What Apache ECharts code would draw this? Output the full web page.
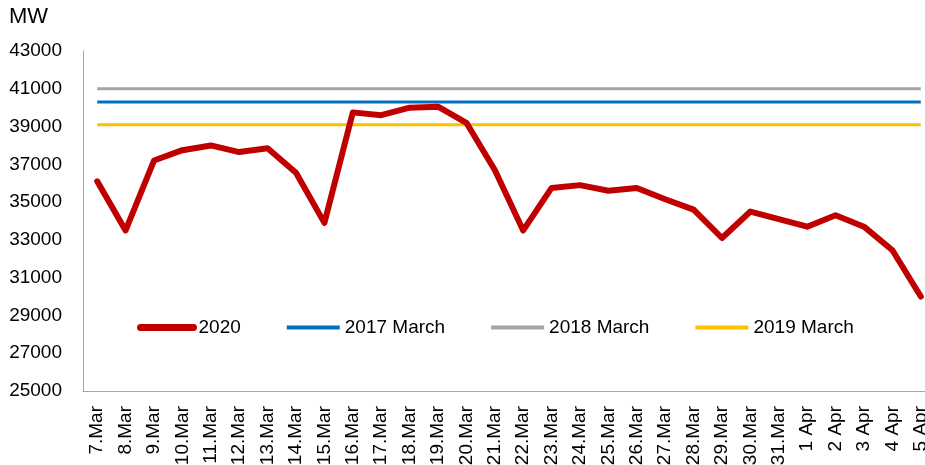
<!DOCTYPE html>
<html>
<head>
<meta charset="utf-8">
<script src="https://cdn.jsdelivr.net/npm/echarts@6/dist/echarts.min.js"></script>
<style>
    html, body { margin: 0; padding: 0; background: #fff; }
    #main { width: 925px; height: 465px; }
</style>
</head>
<body>
<div id="main"></div>
<script>
// categories on the x axis
var days = ['7.Mar', '8.Mar', '9.Mar', '10.Mar', '11.Mar', '12.Mar', '13.Mar', '14.Mar', '15.Mar', '16.Mar',
    '17.Mar', '18.Mar', '19.Mar', '20.Mar', '21.Mar', '22.Mar', '23.Mar', '24.Mar', '25.Mar', '26.Mar',
    '27.Mar', '28.Mar', '29.Mar', '30.Mar', '31.Mar', '1 Apr', '2 Apr', '3 Apr', '4 Apr', '5 Apr'];

// 2020 daily values (MW)
var load2020 = [36100, 33500, 37200, 37750, 38000, 37650, 37850, 36550, 33900, 39750,
    39600, 40000, 40050, 39200, 36700, 33500, 35750, 35900, 35600, 35750,
    35150, 34600, 33100, 34500, 34100, 33700, 34300, 33700, 32450, 30000];

// reference levels from previous years
var march2017 = 40300;
var march2018 = 41000;
var march2019 = 39100;

function flat(v) {
    var arr = [];
    for (var i = 0; i < days.length; i++) {
        arr.push(v);
    }
    return arr;
}

var fontName = 'Liberation Sans, Arial, sans-serif';

var myChart = echarts.init(document.getElementById('main'));
var option = {
    animation: false,
    backgroundColor: '#fff',
    title: {
        text: 'MW',
        left: 9,
        top: 6,
        padding: 0,
        textStyle: { fontFamily: fontName, fontSize: 22, fontWeight: 'normal', color: '#000' }
    },
    legend: {
        left: 137,
        top: 318,
        padding: 0,
        itemWidth: 53,
        itemHeight: 14,
        itemGap: 44,
        itemStyle: { opacity: 0, color: 'transparent', borderWidth: 0 },
        textStyle: { fontFamily: fontName, fontSize: 19, color: '#000' },
        data: [
            { name: '2020', lineStyle: { width: 7, cap: 'round' } },
            { name: '2017 March', lineStyle: { width: 4 } },
            { name: '2018 March', lineStyle: { width: 4 } },
            { name: '2019 March', lineStyle: { width: 4 } }
        ]
    },
    grid: {
        left: 83,
        top: 51,
        bottom: 74,
        width: 852,
        outerBoundsMode: 'none'
    },
    xAxis: {
        type: 'category',
        data: days,
        boundaryGap: true,
        axisLine: { lineStyle: { color: '#a6a6a6', width: 1 } },
        axisTick: { show: false },
        axisLabel: {
            rotate: 90,
            margin: 15,
            interval: 0,
            fontFamily: fontName,
            fontSize: 19,
            color: '#000'
        }
    },
    yAxis: {
        type: 'value',
        min: 25000,
        max: 43000,
        interval: 2000,
        axisLine: { show: true, lineStyle: { color: '#a6a6a6', width: 1 } },
        axisTick: { show: false },
        splitLine: { show: false },
        axisLabel: {
            margin: 21,
            fontFamily: fontName,
            fontSize: 19,
            color: '#000',
            formatter: function (v) { return String(v); }
        }
    },
    series: [
        {
            name: '2020',
            type: 'line',
            symbol: 'none',
            data: load2020,
            z: 5,
            itemStyle: { color: '#c00000' },
            lineStyle: { color: '#c00000', width: 6, cap: 'round', join: 'round' }
        },
        {
            name: '2017 March',
            type: 'line',
            symbol: 'none',
            data: flat(march2017),
            itemStyle: { color: '#0070c0' },
            lineStyle: { color: '#0070c0', width: 3 }
        },
        {
            name: '2018 March',
            type: 'line',
            symbol: 'none',
            data: flat(march2018),
            itemStyle: { color: '#a5a5a5' },
            lineStyle: { color: '#a5a5a5', width: 3 }
        },
        {
            name: '2019 March',
            type: 'line',
            symbol: 'none',
            data: flat(march2019),
            itemStyle: { color: '#ffc000' },
            lineStyle: { color: '#ffc000', width: 3 }
        }
    ]
};
myChart.setOption(option);
</script>
</body>
</html>
